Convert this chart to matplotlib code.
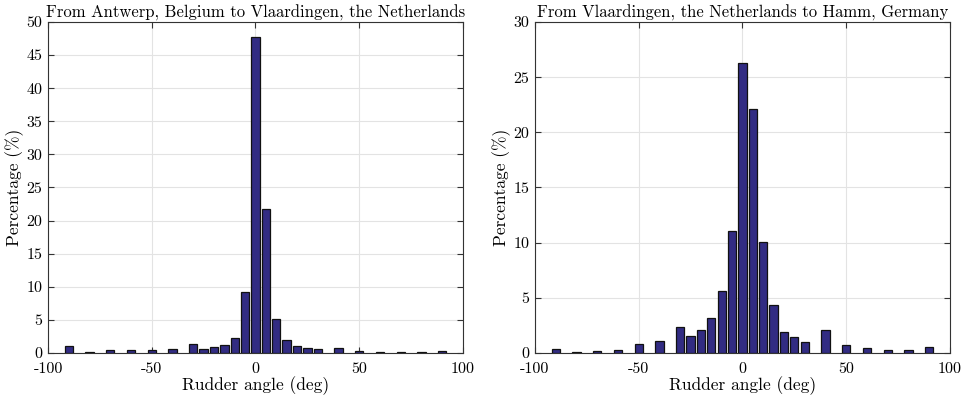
import matplotlib
matplotlib.use("Agg")
import matplotlib.pyplot as plt
import numpy as np

# rudder angle bins (deg) and share of time (%) for each leg
angles = np.array([-90, -80, -70, -60, -50, -40, -30, -25, -20, -15, -10, -5, 0,
                   5, 10, 15, 20, 25, 30, 40, 50, 60, 70, 80, 90])
pct_antwerp = np.array([1.0, 0.15, 0.4, 0.4, 0.45, 0.65, 1.3, 0.55, 0.9, 1.2, 2.3, 9.25, 47.8,
                        21.8, 5.2, 2.0, 1.0, 0.7, 0.55, 0.8, 0.35, 0.2, 0.12, 0.12, 0.3])
pct_hamm = np.array([0.4, 0.1, 0.2, 0.28, 0.86, 1.07, 2.4, 1.56, 2.1, 3.15, 5.65, 11.1, 26.3,
                     22.1, 10.1, 4.34, 1.93, 1.47, 1.04, 2.05, 0.76, 0.46, 0.3, 0.24, 0.51])

titles = ["From Antwerp, Belgium to Vlaardingen, the Netherlands",
          "From Vlaardingen, the Netherlands to Hamm, Germany"]
ymax = [50, 30]

plt.rcParams["font.family"] = "cmr10"
plt.rcParams["mathtext.fontset"] = "cm"
plt.rcParams["axes.formatter.use_mathtext"] = False
plt.rcParams["axes.unicode_minus"] = False  # plain hyphen for negative ticks

fig = plt.figure(figsize=(9.7, 3.99), dpi=100)
ax1 = fig.add_axes([0.0495, 0.1153, 0.4278, 0.8296])
ax2 = fig.add_axes([0.5515, 0.1153, 0.4278, 0.8296])

for ax, pct, title, top in zip([ax1, ax2], [pct_antwerp, pct_hamm], titles, ymax):
    ax.bar(angles, pct, width=4, color="#322c83", edgecolor="#111111", linewidth=0.9, zorder=3)
    ax.set_xlim(-100, 100)
    ax.set_ylim(0, top)
    ax.set_xticks([-100, -50, 0, 50, 100])
    ax.set_yticks(np.arange(0, top + 1, 5))
    ax.grid(True, color="#e3e3e3", linewidth=0.8, zorder=0)
    ax.tick_params(direction="in", top=True, right=True, labelsize=11.5, length=4,
                   color="#333333", pad=4)
    ax.tick_params(axis="x", pad=7)
    for s in ax.spines.values():
        s.set_color("#333333")
        s.set_linewidth(0.8)
    ax.set_title(title, fontsize=12, pad=3)
    ax.set_xlabel("Rudder angle (deg)", fontsize=12.5, labelpad=0)
    ax.set_ylabel("Percentage (%)", fontsize=12.5, labelpad=2)

fig.savefig("out.png", dpi=100)
